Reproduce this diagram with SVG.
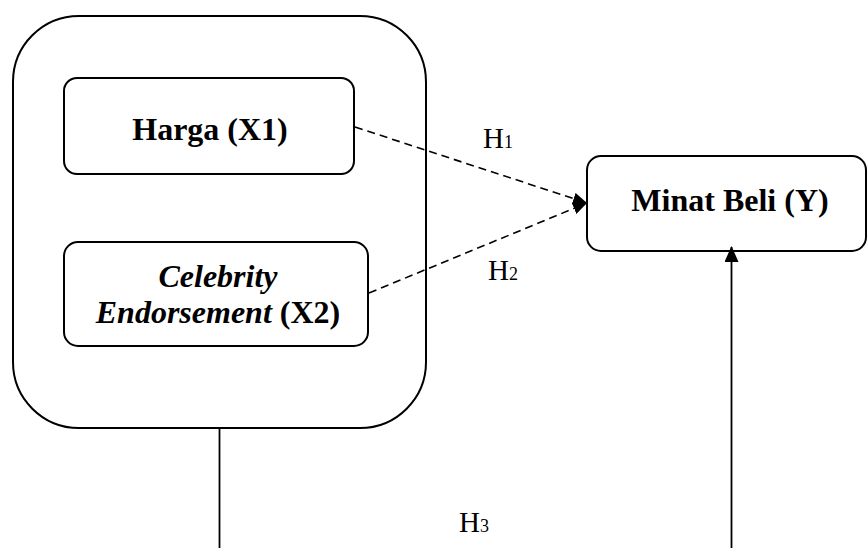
<svg xmlns="http://www.w3.org/2000/svg" width="868" height="548" viewBox="0 0 868 548">
<style>
.box{fill:#fff;stroke:#000;stroke-width:2}
.t{font-family:"Liberation Serif","Times New Roman",serif;font-size:32px;font-weight:bold;fill:#000;text-anchor:middle}
.h{font-family:"Liberation Serif","Times New Roman",serif;font-size:29px;fill:#000}
.hs{font-size:18px}
.dash{fill:none;stroke:#000;stroke-width:1.6;stroke-dasharray:8,5}
.solid{fill:none;stroke:#000;stroke-width:1.8}
</style>
<defs>
<marker id="arr" viewBox="0 0 14 12" refX="14" refY="6" markerWidth="14" markerHeight="12" markerUnits="userSpaceOnUse" orient="auto">
<path d="M0,0 L14,6 L0,12 z" fill="#000"/>
</marker>
<marker id="arr2" viewBox="0 0 16 14" refX="15" refY="7" markerWidth="16" markerHeight="14" markerUnits="userSpaceOnUse" orient="auto">
<path d="M0,0 L16,7 L0,14 z" fill="#000"/>
</marker>
</defs>
<g id="outer">
<rect class="box" x="13" y="16" width="413" height="412" rx="66" ry="66"/>
</g>
<g id="harga">
<rect class="box" x="64" y="78" width="290" height="96" rx="13" ry="13"/>
<text class="t" x="210" y="140">Harga (X1)</text>
</g>
<g id="celebrity">
<rect class="box" x="64" y="242" width="304" height="104" rx="14" ry="14"/>
<text class="t" x="218" y="287"><tspan font-style="italic">Celebrity</tspan></text>
<text class="t" x="218" y="323"><tspan font-style="italic">Endorsement</tspan> (X2)</text>
</g>
<g id="minat">
<rect class="box" x="587" y="156" width="279" height="95" rx="14" ry="14"/>
<text class="t" x="730" y="211">Minat Beli (Y)</text>
</g>
<g id="connectors">
<line class="dash" x1="355" y1="127" x2="587" y2="203" marker-end="url(#arr)"/>
<line class="dash" x1="369" y1="293" x2="587" y2="203" marker-end="url(#arr)"/>
<polyline class="solid" points="219.5,428 219.5,548"/>
<line class="solid" x1="731.5" y1="548" x2="731.5" y2="247" marker-end="url(#arr2)"/>
</g>
<g id="labels">
<text class="h" x="483" y="148">H<tspan class="hs">1</tspan></text>
<text class="h" x="488" y="280">H<tspan class="hs">2</tspan></text>
<text class="h" x="459" y="532">H<tspan class="hs">3</tspan></text>
</g>
</svg>
